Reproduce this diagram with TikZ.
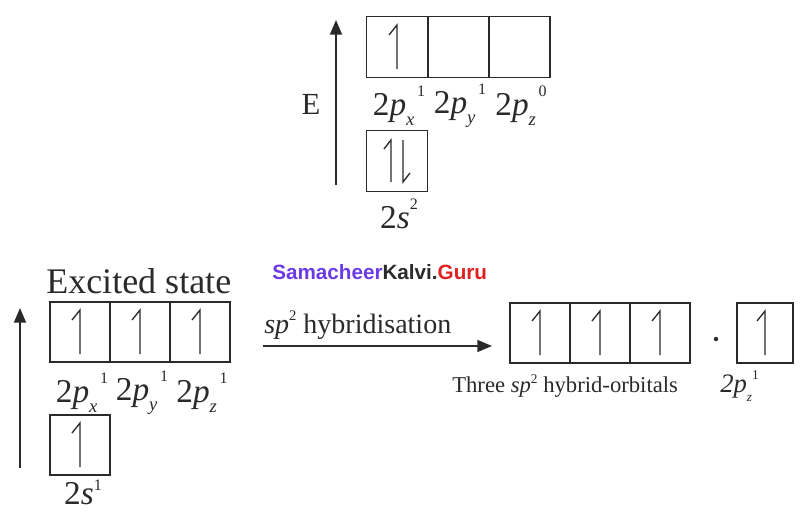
\documentclass[tikz,border=0pt]{standalone}
\usepackage{fontspec}
\setmainfont{Liberation Serif}
\newfontfamily\wmfont{Liberation Sans}
\usetikzlibrary{arrows.meta,calc}
\definecolor{ink}{HTML}{2A2A2A}
\definecolor{wmpurple}{HTML}{6A3BE6}
\definecolor{wmred}{HTML}{E02020}
\newcommand\orbl[2]{2\textit{p}\raisebox{-0.32em}{\fontsize{14}{15}\selectfont\textit{#1}}\raisebox{0.55em}{\fontsize{12}{14}\selectfont\,#2}}
\newcommand\eup[1]{\draw[elec] ($(#1)+(-8,-12)$) -- ($(#1)+(0,-22)$) -- ($(#1)+(0,22)$);}
\newcommand\eupat[2]{\draw[elec] ($(#1)+(#2-7,-12)$) -- ($(#1)+(#2,-21)$) -- ($(#1)+(#2,21)$);}
\newcommand\edownat[2]{\draw[elec] ($(#1)+(#2,-21)$) -- ($(#1)+(#2,21)$) -- ($(#1)+(#2+7,12)$);}
\begin{document}
\begin{tikzpicture}[x=0.75pt,y=-0.75pt,
  orbbox/.style={draw=ink, line width=1.2pt, minimum width=45.5pt, minimum height=46pt, inner sep=0pt},
  orbboxs/.style={draw=ink, line width=1.2pt, minimum width=45pt, minimum height=45pt, inner sep=0pt},
  elec/.style={draw=ink, line width=1pt, line join=miter},
  earrow/.style={draw=ink, line width=1.2pt, -{Triangle[length=11pt,width=9pt]}},
  lbl/.style={inner sep=0pt, font=\fontsize{25}{30}\selectfont, text=ink},
]
\useasboundingbox (0,0) rectangle (800,511);

% ---------- top: ground state ----------
\coordinate (eb) at (336,185);
\coordinate (et) at (336,20);
\draw[earrow] (eb) -- (et);
\node[lbl, font=\fontsize{23}{27}\selectfont] (E) at (311,104) {E};

\node[orbbox] (tpx) at (397,47) {};
\node[orbbox] (tpy) at (458.5,47) {};
\node[orbbox] (tpz) at (519.5,47) {};
\eup{tpx}
\node[lbl] (ltpx) at (399,106) {\orbl{x}{1}};
\node[lbl] (ltpy) at (460,106) {\orbl{y}{1}};
\node[lbl] (ltpz) at (521,106) {\orbl{z}{0}};

\node[orbbox] (ts) at (397,161) {};
\eupat{ts}{-6}
\edownat{ts}{6}
\node[lbl] (lts) at (399,214) {2\textit{s}\raisebox{0.55em}{\fontsize{12}{14}\selectfont 2}};

% ---------- watermark ----------
\node[inner sep=0pt, anchor=west, font=\wmfont\bfseries\fontsize{15.5}{18}\selectfont] (wm) at (272,272)
  {\textcolor{wmpurple}{Samacheer}\textcolor{ink}{Kalvi.}\textcolor{wmred}{Guru}};

% ---------- bottom: excited state ----------
\node[lbl, anchor=west, font=\fontsize{27}{32}\selectfont] (exc) at (46,281) {Excited state};
\coordinate (ab) at (20,468);
\coordinate (at) at (20,308);
\draw[earrow] (ab) -- (at);

\node[orbboxs] (bpx) at (80,332) {};
\node[orbboxs] (bpy) at (140,332) {};
\node[orbboxs] (bpz) at (200,332) {};
\eup{bpx}
\eup{bpy}
\eup{bpz}
\node[lbl] (lbpx) at (82,393) {\orbl{x}{1}};
\node[lbl] (lbpy) at (142,393) {\orbl{y}{1}};
\node[lbl] (lbpz) at (202,393) {\orbl{z}{1}};

\node[orbboxs] (bs) at (80,445) {};
\eup{bs}
\node[lbl, anchor=base] (lbs) at (83,504) {2\textit{s}\raisebox{0.42em}{\fontsize{12}{14}\selectfont 1}};

% ---------- hybridisation arrow ----------
\coordinate (hs) at (263,346);
\coordinate (he) at (492,346);
\draw[earrow] (hs) -- (he);
\node[lbl, anchor=west, font=\fontsize{21}{26}\selectfont] (hl) at (264,325) {\textit{sp}\raisebox{0.45em}{\fontsize{11}{13}\selectfont 2} hybridisation};

% ---------- hybrid orbitals ----------
\node[orbboxs] (h1) at (540,333) {};
\node[orbboxs] (h2) at (600,333) {};
\node[orbboxs] (h3) at (660,333) {};
\eup{h1}
\eup{h2}
\eup{h3}
\fill[ink] (716,339) circle (2.2);
\node[orbboxs, minimum width=42pt] (hz) at (765,333) {};
\eup{hz}
\node[lbl, anchor=west, font=\fontsize{17}{20}\selectfont] (hol) at (452,386) {Three \textit{sp}\raisebox{0.4em}{\fontsize{10}{12}\selectfont 2} hybrid-orbitals};
\node[lbl, anchor=west, font=\fontsize{20}{24}\selectfont] (hzl) at (720,386) {\textit{2p}\raisebox{-0.35em}{\fontsize{10}{12}\selectfont\textit{z}}\raisebox{0.5em}{\fontsize{10}{12}\selectfont 1}};
\end{tikzpicture}
\end{document}
